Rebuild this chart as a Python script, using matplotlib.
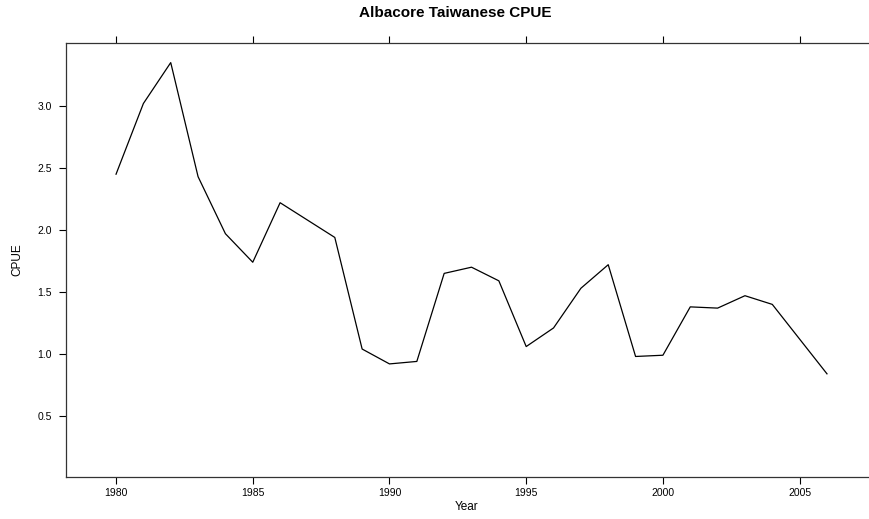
import matplotlib
matplotlib.use("Agg")
import matplotlib.pyplot as plt

# Albacore Taiwanese CPUE by year
years = list(range(1980, 2007))
cpue = [2.45, 3.02, 3.35, 2.43, 1.97, 1.74, 2.22, 2.08, 1.94, 1.04,
        0.92, 0.94, 1.65, 1.70, 1.59, 1.06, 1.21, 1.53, 1.72, 0.98,
        0.99, 1.38, 1.37, 1.47, 1.40, 1.12, 0.84]

x_ticks = [1980, 1985, 1990, 1995, 2000, 2005]
y_ticks = [0.5, 1.0, 1.5, 2.0, 2.5, 3.0]

plt.rcParams['font.family'] = ['Liberation Sans', 'DejaVu Sans']

fig = plt.figure(figsize=(8.69, 5.19), dpi=100)
ax = fig.add_axes([66 / 869, 1 - 477 / 519, (868 - 66) / 869, (477 - 43) / 519])

ax.plot(years, cpue, color='black', linewidth=0.9)

ax.set_xlim(1978.17, 2007.5)
ax.set_ylim(0.008, 3.508)

ax.set_xticks(x_ticks)
ax.set_xticklabels([str(t) for t in x_ticks])
ax.set_yticks(y_ticks)
ax.set_yticklabels([f"{t:.1f}" for t in y_ticks])

ax.spines['right'].set_visible(False)
for s in ['left', 'top', 'bottom']:
    ax.spines[s].set_linewidth(0.9)
    ax.spines[s].set_color('#333333')

ax.tick_params(axis='x', which='both', top=True, bottom=True, labeltop=False,
               direction='out', length=5, width=0.8, labelsize=7.5, pad=3)
ax.tick_params(axis='y', which='both', left=True, right=False,
               direction='out', length=5, width=0.8, labelsize=7.5, pad=5)

ax.set_xlabel('Year', fontsize=8.5, labelpad=2)
ax.set_ylabel('CPUE', fontsize=8.5, labelpad=10)
fig.text(455 / 869, 1 - 13 / 519, 'Albacore Taiwanese CPUE', ha='center', va='center',
         fontsize=11, fontweight='bold')

fig.savefig('out.png', dpi=100)
